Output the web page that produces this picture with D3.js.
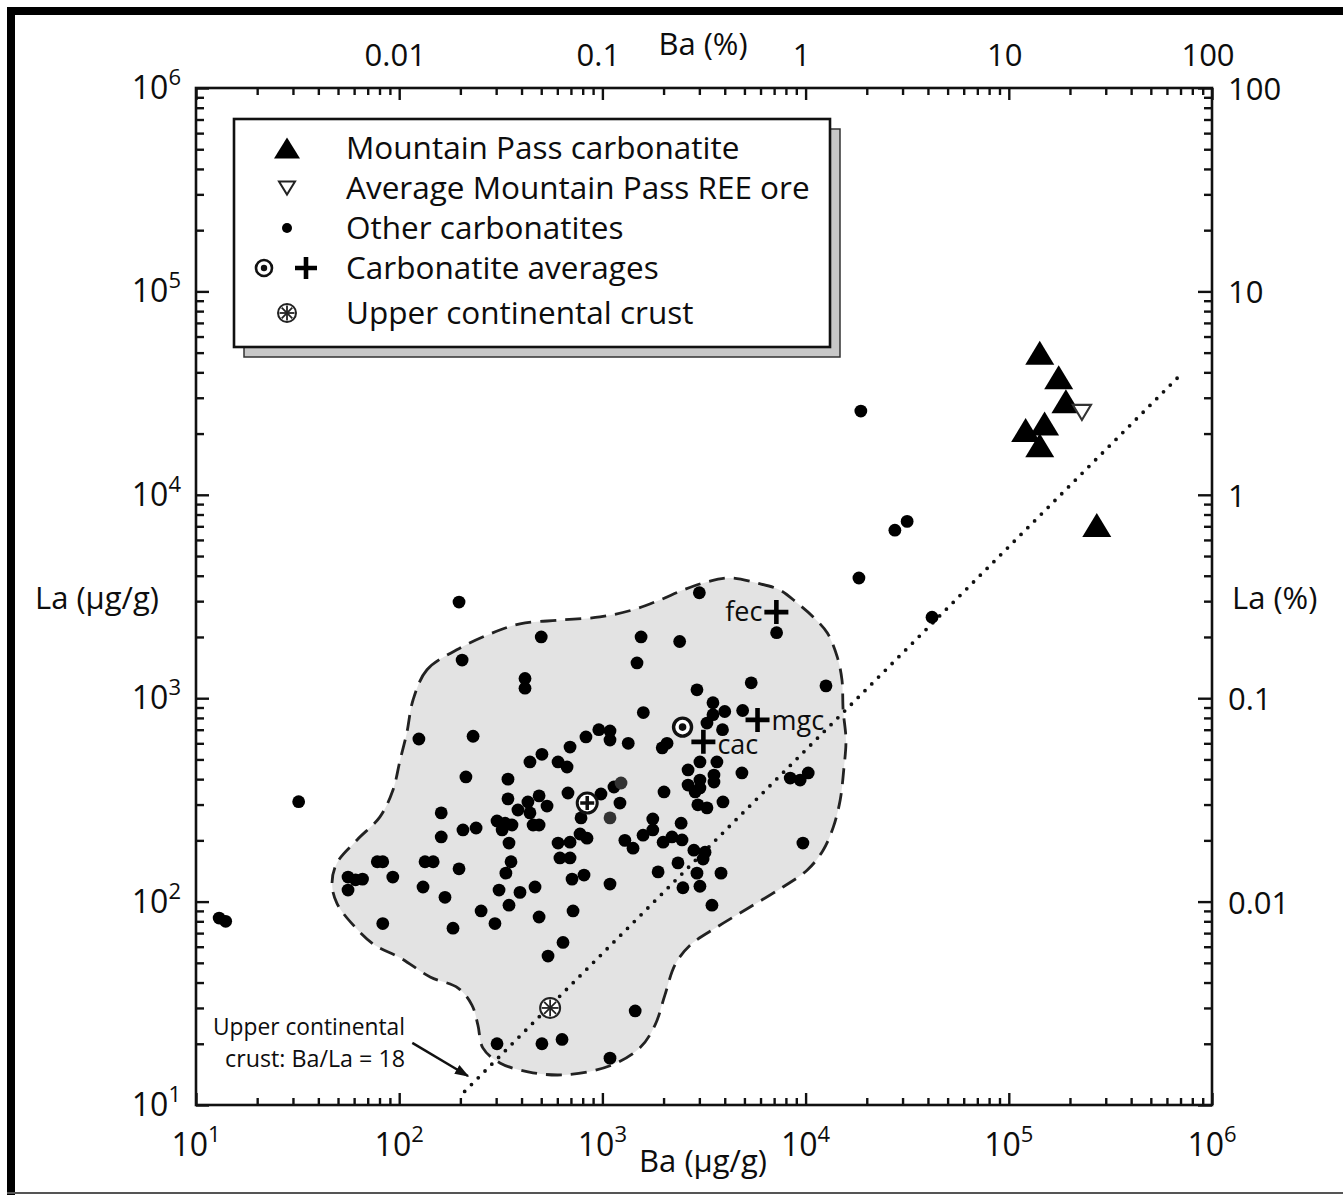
<!DOCTYPE html>
<html>
<head>
<meta charset="utf-8">
<script src="https://cdn.jsdelivr.net/npm/d3@7"></script>
<style>
    body { margin: 0; background: #fff; }
    svg text { fill: #0d0d0d; }
</style>
</head>
<body>
<div id="chart"></div>
<script>
const width = 1343;
const height = 1195;
const plotLeft = 196;
const plotRight = 1212;
const plotTop = 88;
const plotBottom = 1105;

// [Ba ug/g, La ug/g]
const mountainPass = [
    [142000, 50000], [176000, 37800], [191000, 28800], [121000, 20800],
    [150000, 22400], [142000, 17500], [271000, 7100]
];
const mountainPassOre = [[229000, 25400]];

const otherCarbonatites = [
    [13, 83], [14, 80], [32, 310], [197, 2970], [18700, 25800], [18300, 3900], [27500, 6700], [31600, 7400], [41900, 2500],
    [3000, 3300], [7200, 2100], [1550, 2000], [2400, 1900], [500, 2000], [204, 1540], [1480, 1490], [416, 1250], [416, 1120],
    [5400, 1190], [12600, 1150], [2920, 1100], [1590, 850], [3500, 950], [4000, 860], [4900, 870], [3500, 830], [3270, 755],
    [3900, 700], [125, 630], [231, 650], [830, 645], [960, 700], [1090, 690], [1090, 623], [1340, 600], [693, 575], [504, 530],
    [440, 486], [605, 486], [670, 459], [2080, 600], [1970, 570], [3020, 486], [3660, 486], [2640, 444], [3540, 419], [3540, 387],
    [4860, 429], [3020, 396], [2640, 374], [2860, 346], [3020, 362], [1140, 366], [984, 338], [1220, 305], [2010, 346], [2950, 299],
    [3270, 289], [3920, 309], [8400, 405], [9400, 396], [10300, 429], [213, 410], [343, 400], [677, 342], [488, 331], [343, 320],
    [430, 309], [384, 282], [440, 273], [534, 295], [785, 258], [303, 249], [332, 243], [359, 238], [321, 225], [456, 238], [488, 238],
    [161, 273], [161, 208], [206, 225], [239, 230], [347, 194], [605, 194], [693, 196], [776, 215], [840, 205], [1290, 200], [1415, 183],
    [1585, 212], [1770, 225], [1770, 255], [2440, 243], [1990, 196], [2200, 208], [2465, 201], [2820, 179], [3200, 175], [2355, 155],
    [3130, 162], [1880, 140], [2920, 138], [3835, 138], [1090, 122], [2490, 117], [3020, 119], [9700, 194], [3460, 96], [78, 157],
    [83, 157], [134, 157], [147, 157], [355, 157], [618, 164], [693, 164], [56, 132], [61, 128], [66, 129], [56, 114], [93, 132],
    [197, 145], [335, 138], [812, 135], [709, 129], [131, 118], [168, 105], [310, 114], [393, 111], [466, 118], [347, 96], [253, 90],
    [296, 78], [488, 84], [717, 90], [83, 78], [184, 74], [640, 63], [540, 54], [1450, 29], [303, 20], [504, 20], [633, 21], [1090, 17]
];
const otherCarbonatitesGray = [[1235, 383], [1090, 258]];

const carbAvgCircles = [[2480, 721]];
const carbAvgCrosses = [
    { name: "fec", ba: 7180, la: 2650 },
    { name: "mgc", ba: 5800, la: 782 },
    { name: "cac", ba: 3140, la: 610 }
];
const carbAvgCombined = [[842, 305]];
const upperCrust = [[553, 30]];

// dashed field around most carbonatites
const fieldOutline = [
    [117, 980], [137, 1380], [192, 1730], [280, 2070], [393, 2320], [618, 2420], [973, 2510], [1415, 2720], [1920, 3040],
    [2490, 3400], [3270, 3730], [4250, 3900], [5770, 3680], [7480, 3400], [9080, 2940], [10900, 2510], [12800, 2090],
    [14300, 1600], [15100, 1230], [15300, 875], [15800, 622], [15400, 443], [14800, 316], [13700, 233], [12200, 179],
    [10200, 143], [7740, 118], [5330, 94], [3670, 75], [2700, 61], [2280, 49], [2030, 34.7], [1815, 24.7], [1530, 19.1],
    [1090, 15.6], [670, 14.1], [455, 14.4], [313, 16.1], [258, 19.1], [244, 24.7], [228, 31], [195, 37.6], [142, 42.6],
    [101, 53], [76, 61], [60.6, 75], [49.4, 98], [46.7, 123], [49.4, 155], [62, 201], [80.4, 261], [93.2, 354], [101, 496], [109, 675]
];

const crustRatio = 18;
const ratioLineBa = [210, 700000];
const arrowFrom = [116, 20.2];
const arrowTo = [218, 13.9];

const xExponents = [1, 2, 3, 4, 5, 6];
const yExponents = [1, 2, 3, 4, 5, 6];
const pctTickValues = [0.01, 0.1, 1, 10, 100];
const pctTickLabels = ["0.01", "0.1", "1", "10", "100"];

const legendItems = [
    "Mountain Pass carbonatite",
    "Average Mountain Pass REE ore",
    "Other carbonatites",
    "Carbonatite averages",
    "Upper continental crust"
];

const x = d3.scaleLog([10, 1e6], [plotLeft, plotRight]);
const y = d3.scaleLog([10, 1e6], [plotBottom, plotTop]);
const xPct = d3.scaleLog([0.001, 100], [plotLeft, plotRight]);
const yPct = d3.scaleLog([0.001, 100], [plotBottom, plotTop]);

const font = '"Open Sans", "Noto Sans", sans-serif';

const svg = d3.select("#chart")
    .append("svg")
    .attr("width", width)
    .attr("height", height)
    .attr("viewBox", [0, 0, width, height])
    .style("font-family", font);

svg.append("defs").append("marker")
    .attr("id", "arrowHead")
    .attr("viewBox", "0 0 10 10")
    .attr("refX", 9).attr("refY", 5)
    .attr("markerWidth", 6).attr("markerHeight", 6)
    .attr("markerUnits", "strokeWidth")
    .attr("orient", "auto")
    .append("path")
    .attr("d", "M0,1.5L10,5L0,8.5Z")
    .attr("fill", "#111");

// outer frame of the figure
svg.append("path")
    .attr("d", `M11,${height} V11 H${width}`)
    .attr("fill", "none")
    .attr("stroke", "#000")
    .attr("stroke-width", 8);
svg.append("line")
    .attr("x1", 7).attr("x2", width)
    .attr("y1", 1193).attr("y2", 1193)
    .attr("stroke", "#555")
    .attr("stroke-width", 2);

// field
svg.append("path")
    .datum(fieldOutline)
    .attr("d", d3.line().x(d => x(d[0])).y(d => y(d[1])).curve(d3.curveCatmullRomClosed.alpha(0.5)))
    .attr("fill", "#e3e3e3")
    .attr("stroke", "#222")
    .attr("stroke-width", 2.8)
    .attr("stroke-dasharray", "16 9");

// Ba/La = 18 line
svg.append("path")
    .datum(ratioLineBa.map(b => [b, b / crustRatio]))
    .attr("d", d3.line().x(d => x(d[0])).y(d => y(d[1])))
    .attr("fill", "none")
    .attr("stroke", "#111")
    .attr("stroke-width", 3.8)
    .attr("stroke-linecap", "round")
    .attr("stroke-dasharray", "0 9.6");

// axes, ticks inside the frame
const isMajor = v => Math.abs(Math.log10(v) - Math.round(Math.log10(v))) < 1e-6;

const axisSpecs = [
    { axis: d3.axisBottom(x), at: `translate(0,${plotBottom})`, attr: "y2", sign: -1, major: 12, minor: 7 },
    { axis: d3.axisLeft(y), at: `translate(${plotLeft},0)`, attr: "x2", sign: 1, major: 13, minor: 8 },
    { axis: d3.axisTop(xPct), at: `translate(0,${plotTop})`, attr: "y2", sign: 1, major: 12, minor: 7 },
    { axis: d3.axisRight(yPct), at: `translate(${plotRight},0)`, attr: "x2", sign: -1, major: 14, minor: 8 }
];

axisSpecs.forEach(spec => {
    const g = svg.append("g")
        .attr("transform", spec.at)
        .call(spec.axis.tickFormat("").tickSizeOuter(0));
    g.select(".domain").remove();
    g.selectAll(".tick line")
        .attr(spec.attr, d => spec.sign * (isMajor(d) ? spec.major : spec.minor))
        .attr("stroke", "#111")
        .attr("stroke-width", 2.4);
});

svg.append("rect")
    .attr("x", plotLeft).attr("y", plotTop)
    .attr("width", plotRight - plotLeft)
    .attr("height", plotBottom - plotTop)
    .attr("fill", "none")
    .attr("stroke", "#111")
    .attr("stroke-width", 2.6);

// bottom labels 10^n
const bottomLabels = svg.append("g").selectAll("text")
    .data(xExponents)
    .join("text")
    .attr("x", d => x(Math.pow(10, d)))
    .attr("y", 1156)
    .attr("text-anchor", "middle")
    .style("font-size", "32px");
bottomLabels.append("tspan").text("10");
bottomLabels.append("tspan").attr("dy", -14).style("font-size", "22px").text(d => d);

const leftLabels = svg.append("g").selectAll("text")
    .data(yExponents)
    .join("text")
    .attr("x", 181)
    .attr("y", d => y(Math.pow(10, d)) + 11)
    .attr("text-anchor", "end")
    .style("font-size", "32px");
leftLabels.append("tspan").text("10");
leftLabels.append("tspan").attr("dy", -14).style("font-size", "22px").text(d => d);

svg.append("g").selectAll("text")
    .data(pctTickValues)
    .join("text")
    .attr("x", d => xPct(d) - 4)
    .attr("y", 66)
    .attr("text-anchor", "middle")
    .style("font-size", "31px")
    .text((d, i) => pctTickLabels[i]);

svg.append("g").selectAll("text")
    .data(pctTickValues)
    .join("text")
    .attr("x", 1228)
    .attr("y", d => yPct(d) + 12)
    .attr("text-anchor", "start")
    .style("font-size", "31px")
    .text((d, i) => pctTickLabels[i]);

// axis titles
svg.append("text").attr("x", 703).attr("y", 55).attr("text-anchor", "middle")
    .style("font-size", "31px").text("Ba (%)");
svg.append("text").attr("x", 703).attr("y", 1172).attr("text-anchor", "middle")
    .style("font-size", "31px").text("Ba (µg/g)");
svg.append("text").attr("x", 35).attr("y", 609)
    .style("font-size", "31px").text("La (µg/g)");
svg.append("text").attr("x", 1232).attr("y", 609)
    .style("font-size", "31px").text("La (%)");

// symbols
const triangle = (w, h) => `M0,${-h / 2}L${w / 2},${h / 2}L${-w / 2},${h / 2}Z`;
const triangleDown = (w, h) => `M${-w / 2},${-h / 2}L${w / 2},${-h / 2}L0,${h / 2}Z`;

const drawCrust = (g, r) => {
    g.append("circle").attr("r", r).attr("fill", "#fff").attr("stroke", "#222").attr("stroke-width", 2);
    [0, 45, 90, 135].forEach(a => {
        g.append("line")
            .attr("x1", -(r - 1.5)).attr("x2", r - 1.5)
            .attr("transform", `rotate(${a})`)
            .attr("stroke", "#222")
            .attr("stroke-width", 1.8);
    });
};

const drawBullseye = (g, r, sw, dot) => {
    g.append("circle").attr("r", r).attr("fill", "#fff").attr("stroke", "#111").attr("stroke-width", sw);
    g.append("circle").attr("r", dot).attr("fill", "#111");
};

svg.append("g").selectAll("circle")
    .data(otherCarbonatites)
    .join("circle")
    .attr("cx", d => x(d[0]))
    .attr("cy", d => y(d[1]))
    .attr("r", 6.4)
    .attr("fill", "#000");

svg.append("g").selectAll("circle")
    .data(otherCarbonatitesGray)
    .join("circle")
    .attr("cx", d => x(d[0]))
    .attr("cy", d => y(d[1]))
    .attr("r", 6.4)
    .attr("fill", "#333");

svg.append("g").selectAll("path")
    .data(mountainPass)
    .join("path")
    .attr("transform", d => `translate(${x(d[0])},${y(d[1])})`)
    .attr("d", triangle(29, 24))
    .attr("fill", "#000");

svg.append("g").selectAll("path")
    .data(mountainPassOre)
    .join("path")
    .attr("transform", d => `translate(${x(d[0])},${y(d[1])})`)
    .attr("d", triangleDown(18, 15))
    .attr("fill", "#fff")
    .attr("stroke", "#333")
    .attr("stroke-width", 2.2);

carbAvgCircles.forEach(d => {
    drawBullseye(svg.append("g").attr("transform", `translate(${x(d[0])},${y(d[1])})`), 9, 3.4, 3.8);
});

carbAvgCombined.forEach(d => {
    const g = svg.append("g").attr("transform", `translate(${x(d[0])},${y(d[1])})`);
    g.append("circle").attr("r", 10).attr("fill", "#fff").attr("stroke", "#111").attr("stroke-width", 3);
    g.append("path").attr("d", "M-7,0H7M0,-7V7").attr("stroke", "#111").attr("stroke-width", 3.5);
});

const crossG = svg.append("g").selectAll("g")
    .data(carbAvgCrosses)
    .join("g")
    .attr("transform", d => `translate(${x(d.ba)},${y(d.la)})`);
crossG.append("path")
    .attr("d", "M-12,0H12M0,-12V12")
    .attr("stroke", "#000")
    .attr("stroke-width", 4.6);
crossG.append("text")
    .attr("x", d => d.name === "fec" ? -14 : 14)
    .attr("y", d => d.name === "fec" ? 9 : d.name === "mgc" ? 10 : 12)
    .attr("text-anchor", d => d.name === "fec" ? "end" : "start")
    .style("font-size", "27px")
    .text(d => d.name);

upperCrust.forEach(d => {
    drawCrust(svg.append("g").attr("transform", `translate(${x(d[0])},${y(d[1])})`), 10);
});

// annotation
svg.append("line")
    .attr("x1", x(arrowFrom[0])).attr("y1", y(arrowFrom[1]))
    .attr("x2", x(arrowTo[0])).attr("y2", y(arrowTo[1]))
    .attr("stroke", "#111")
    .attr("stroke-width", 2.4)
    .attr("marker-end", "url(#arrowHead)");

const note = svg.append("g").style("font-size", "23px");
note.append("text").attr("x", 213).attr("y", 1035)
    .attr("textLength", 192).attr("lengthAdjust", "spacingAndGlyphs")
    .text("Upper continental");
note.append("text").attr("x", 225).attr("y", 1067)
    .attr("textLength", 180).attr("lengthAdjust", "spacingAndGlyphs")
    .text("crust: Ba/La = 18");

// legend
const legend = svg.append("g");
legend.append("rect")
    .attr("x", 244).attr("y", 129).attr("width", 596).attr("height", 228)
    .attr("fill", "#c8c8c8").attr("stroke", "#333").attr("stroke-width", 1.5);
legend.append("rect")
    .attr("x", 234).attr("y", 119).attr("width", 596).attr("height", 228)
    .attr("fill", "#fff").attr("stroke", "#111").attr("stroke-width", 2.6);

const rowY = [148, 188, 228, 268, 313];
legend.selectAll("text")
    .data(legendItems)
    .join("text")
    .attr("x", 346)
    .attr("y", (d, i) => rowY[i] + 11)
    .style("font-size", "31.5px")
    .text(d => d);

legend.append("path").attr("transform", `translate(287,${rowY[0]})`)
    .attr("d", triangle(26, 21)).attr("fill", "#000");
legend.append("path").attr("transform", `translate(287,${rowY[1]})`)
    .attr("d", triangleDown(16, 13)).attr("fill", "#fff").attr("stroke", "#222").attr("stroke-width", 2);
legend.append("circle").attr("cx", 287).attr("cy", rowY[2]).attr("r", 5).attr("fill", "#000");
drawBullseye(legend.append("g").attr("transform", `translate(264,${rowY[3]})`), 8, 2.6, 3.2);
legend.append("path").attr("transform", `translate(306,${rowY[3]})`)
    .attr("d", "M-11,0H11M0,-11V11").attr("stroke", "#000").attr("stroke-width", 4.6);
drawCrust(legend.append("g").attr("transform", `translate(287,${rowY[4]})`), 9);
</script>
</body>
</html>
